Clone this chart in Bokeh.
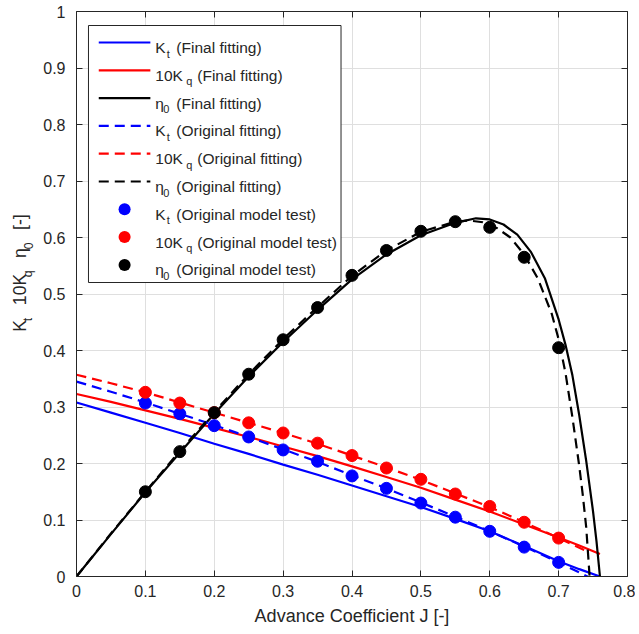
import numpy as np
from bokeh.plotting import figure
from bokeh.layouts import row
from bokeh.models import (Range1d, LinearAxis, FixedTicker, CustomJSTickFormatter,
                          Label, Arrow, BoxAnnotation)
from bokeh.embed import file_html
from bokeh.resources import INLINE

# ---------------- data ----------------
x_ticks = [0, 0.1, 0.2, 0.3, 0.4, 0.5, 0.6, 0.7, 0.8]
y_ticks = [0, 0.1, 0.2, 0.3, 0.4, 0.5, 0.6, 0.7, 0.8, 0.9, 1.0]

# model test points
J_test = [0.10, 0.15, 0.20, 0.25, 0.30, 0.35, 0.40, 0.45, 0.50, 0.55, 0.60, 0.65, 0.70]
Kt_test = [0.307, 0.288, 0.267, 0.247, 0.224, 0.204, 0.178, 0.156, 0.130, 0.105, 0.080, 0.052, 0.025]
Kq10_test = [0.326, 0.307, 0.290, 0.272, 0.254, 0.236, 0.214, 0.192, 0.172, 0.146, 0.124, 0.096, 0.068]
eta_test = [0.150, 0.221, 0.290, 0.358, 0.419, 0.476, 0.533, 0.577, 0.611, 0.628, 0.618, 0.565, 0.405]

# final fitting
J_final_K = [0, 0.05, 0.10, 0.15, 0.20, 0.25, 0.30, 0.35, 0.40, 0.45, 0.50, 0.55, 0.60, 0.65, 0.70, 0.73, 0.76]
Kt_final = [0.308, 0.290, 0.272, 0.254, 0.235, 0.217, 0.198, 0.180, 0.161, 0.142, 0.123, 0.102, 0.080, 0.054, 0.027, 0.013, 0.0]
Kq10_final = [0.323, 0.309, 0.294, 0.279, 0.263, 0.247, 0.230, 0.213, 0.195, 0.176, 0.157, 0.136, 0.115, 0.092, 0.069, 0.055, 0.040]
J_final_eta = [0, 0.05, 0.10, 0.15, 0.20, 0.25, 0.30, 0.35, 0.40, 0.45, 0.50, 0.55, 0.58, 0.60, 0.62,
               0.64, 0.66, 0.68, 0.70, 0.71, 0.72, 0.73, 0.74, 0.75, 0.755, 0.760]
eta_final = [0, 0.075, 0.149, 0.219, 0.288, 0.354, 0.415, 0.472, 0.526, 0.570, 0.604, 0.626, 0.634, 0.632, 0.623,
             0.605, 0.574, 0.528, 0.455, 0.410, 0.356, 0.285, 0.205, 0.115, 0.062, 0.0]

# original fitting
J_orig_K = [0, 0.05, 0.10, 0.15, 0.20, 0.25, 0.30, 0.35, 0.40, 0.45, 0.50, 0.55, 0.60, 0.65, 0.70, 0.742]
Kt_orig = [0.345, 0.327, 0.308, 0.288, 0.268, 0.247, 0.225, 0.203, 0.179, 0.156, 0.131, 0.106, 0.080, 0.053, 0.025, 0.0]
Kq10_orig = [0.357, 0.342, 0.326, 0.308, 0.290, 0.272, 0.254, 0.235, 0.214, 0.193, 0.171, 0.147, 0.123, 0.096, 0.068, 0.044]
J_orig_eta = [0, 0.05, 0.10, 0.15, 0.20, 0.25, 0.30, 0.35, 0.40, 0.45, 0.50, 0.55, 0.57, 0.59, 0.61,
              0.63, 0.65, 0.67, 0.69, 0.70, 0.71, 0.72, 0.73, 0.735, 0.74, 0.745]
eta_orig = [0, 0.076, 0.150, 0.222, 0.291, 0.358, 0.420, 0.477, 0.532, 0.577, 0.610, 0.628, 0.630, 0.627, 0.617,
            0.600, 0.570, 0.527, 0.465, 0.420, 0.360, 0.282, 0.195, 0.145, 0.088, 0.0]

x_title = "Advance Coefficient J [-]"
legend_rows = [
    ("K", "t", "(Final fitting)", "#0000ff", "line", None),
    ("10K", "q", "(Final fitting)", "#ff0000", "line", None),
    ("\u03b7", "0", "(Final fitting)", "#000000", "line", None),
    ("K", "t", "(Original fitting)", "#0000ff", "line", "10 6"),
    ("10K", "q", "(Original fitting)", "#ff0000", "line", "10 6"),
    ("\u03b7", "0", "(Original fitting)", "#000000", "line", "10 6"),
    ("K", "t", "(Original model test)", "#0000ff", "dot", None),
    ("10K", "q", "(Original model test)", "#ff0000", "dot", None),
    ("\u03b7", "0", "(Original model test)", "#000000", "dot", None),
]
# (text, is_subscript, gap before it in spaces)
y_title_parts = [("K", False, 0), ("t", True, 0), ("10K", False, 3), ("q", True, 0),
                 ("\u03b7", False, 3), ("0", True, 0), ("[-]", False, 3)]

# ---------------- layout constants ----------------
FONT = "Liberation Sans"
TXT = "#262626"
H = 632
YT_W = 40                     # width of the strip that carries the y title
FRAME_W, FRAME_H = 552, 565
XR, YR = (0.0, 0.8), (0.0, 1.0)

def fx(px):  # frame-relative px (from left) -> data x
    return XR[0] + px * (XR[1] - XR[0]) / FRAME_W

def fy(py):  # frame-relative px (from top, downward) -> data y
    return YR[1] - py * (YR[1] - YR[0]) / FRAME_H

p = figure(width=75 - YT_W + FRAME_W + 8, height=H, x_range=Range1d(*XR), y_range=Range1d(*YR),
           output_backend="svg", toolbar_location=None,
           min_border_left=75 - YT_W, min_border_right=8, min_border_top=11,
           min_border_bottom=H - 11 - FRAME_H)
p.outline_line_color = None
p.background_fill_color = "white"
p.border_fill_color = "white"

fmt = CustomJSTickFormatter(code="return Number(tick.toFixed(1)).toString();")
blank = CustomJSTickFormatter(code="return '';")

def style_axis(ax, ticks, show_labels, standoff=8):
    ax.ticker = FixedTicker(ticks=ticks)
    ax.axis_line_color = TXT
    ax.axis_line_width = 1
    ax.major_tick_line_color = TXT
    ax.major_tick_line_width = 1
    ax.major_tick_in = 6
    ax.major_tick_out = 0
    ax.minor_tick_line_color = None
    if show_labels:
        ax.formatter = fmt
        ax.major_label_text_font = FONT
        ax.major_label_text_font_size = "16px"
        ax.major_label_text_color = TXT
        ax.major_label_standoff = standoff
    else:
        ax.formatter = blank
        ax.major_label_standoff = 0
        ax.major_label_text_font_size = "1px"

style_axis(p.xaxis[0], x_ticks, True, standoff=8)
style_axis(p.yaxis[0], y_ticks, True, standoff=11)
p.xaxis[0].axis_label = x_title
p.xaxis[0].axis_label_text_font = FONT
p.xaxis[0].axis_label_text_font_size = "18px"
p.xaxis[0].axis_label_text_font_style = "normal"
p.xaxis[0].axis_label_text_color = TXT
p.xaxis[0].axis_label_standoff = 6
top_ax = LinearAxis()
right_ax = LinearAxis()
style_axis(top_ax, x_ticks, False)
style_axis(right_ax, y_ticks, False)
p.add_layout(top_ax, "above")
p.add_layout(right_ax, "right")

for g in (p.xgrid[0], p.ygrid[0]):
    g.grid_line_color = "#dfdfdf"
    g.grid_line_width = 1

LW = 2.2
DASH = "10 6"
# fitted curves
p.line(J_final_K, Kt_final, line_color="#0000ff", line_width=LW)
p.line(J_final_K, Kq10_final, line_color="#ff0000", line_width=LW)
p.line(J_final_eta, eta_final, line_color="#000000", line_width=LW)
p.line(J_orig_K, Kt_orig, line_color="#0000ff", line_width=LW, line_dash=DASH)
p.line(J_orig_K, Kq10_orig, line_color="#ff0000", line_width=LW, line_dash=DASH)
p.line(J_orig_eta, eta_orig, line_color="#000000", line_width=LW, line_dash=DASH)
# model test points
p.scatter(J_test, Kt_test, marker="circle", size=12, fill_color="#0000ff", line_color="#0000ff")
p.scatter(J_test, Kq10_test, marker="circle", size=12, fill_color="#ff0000", line_color="#ff0000")
p.scatter(J_test, eta_test, marker="circle", size=12, fill_color="#000000", line_color="#000000")

# ---------------- legend (drawn by hand for the sub-scripts) ----------------
LEG_L, LEG_R, LEG_T, LEG_B = 12, 265, 14, 271
ROW0, ROW_DY = 31, 27.8
SAMPLE_X0, SAMPLE_X1 = 22.3, 74
TEXT_X = 79
SUB_X = {"K": 90.5, "10K": 110, "\u03b7": 87}
REST_X = {"K": 100, "10K": 121, "\u03b7": 100}
LEG_FS, SUB_FS = "15.5px", "11px"

p.add_layout(BoxAnnotation(left=fx(LEG_L), right=fx(LEG_R), top=fy(LEG_T), bottom=fy(LEG_B),
                           fill_color="white", fill_alpha=1.0, line_color=TXT, line_alpha=1.0,
                           line_width=1))
for i, (main, sub, rest, col, kind, dash) in enumerate(legend_rows):
    ry = ROW0 + ROW_DY * i
    if kind == "line":
        p.add_layout(Arrow(x_start=fx(SAMPLE_X0), y_start=fy(ry), x_end=fx(SAMPLE_X1), y_end=fy(ry),
                           end=None, line_color=col, line_width=LW,
                           line_dash=dash if dash else "solid"))
    else:
        cx = (SAMPLE_X0 + SAMPLE_X1) / 2
        p.add_layout(Arrow(x_start=fx(cx), y_start=fy(ry), x_end=fx(cx + 0.05), y_end=fy(ry),
                           end=None, line_color=col, line_width=12, line_cap="round"))
    p.add_layout(Label(x=fx(TEXT_X), y=fy(ry + 5), text=main, text_font=FONT, text_font_size=LEG_FS,
                       text_color=TXT, text_baseline="alphabetic", text_align="left"))
    p.add_layout(Label(x=fx(SUB_X[main]), y=fy(ry + 11), text=sub, text_font=FONT, text_font_size=SUB_FS,
                       text_color=TXT, text_baseline="alphabetic", text_align="left"))
    p.add_layout(Label(x=fx(REST_X[main]), y=fy(ry + 5), text=rest, text_font=FONT, text_font_size=LEG_FS,
                       text_color=TXT, text_baseline="alphabetic", text_align="left"))

# ---------------- y title (rotated, with sub-scripts) in a narrow strip ----------------
yt = figure(width=YT_W, height=H, x_range=Range1d(0, YT_W), y_range=Range1d(0, H),
            output_backend="svg", toolbar_location=None,
            x_axis_location=None, y_axis_location=None, min_border=0)
yt.outline_line_color = None
yt.background_fill_color = "white"
yt.border_fill_color = "white"
yt.xgrid.visible = False
yt.ygrid.visible = False

EM = {"K": 0.667, "t": 0.278, " ": 0.278, "1": 0.556, "0": 0.556, "q": 0.556,
      "\u03b7": 0.556, "[": 0.278, "-": 0.333, "]": 0.278}
MAIN_FS, SUBY_FS = 17.6, 12.3

def part_len(txt, fs):
    return sum(EM.get(c, 0.556) for c in txt) * fs

total = sum(g * EM[" "] * MAIN_FS + part_len(t, SUBY_FS if s else MAIN_FS) for t, s, g in y_title_parts)
pos = 11 + FRAME_H / 2 + total / 2   # page y of the bottom end: centred on the frame
for txt, is_sub, gap in y_title_parts:
    pos -= gap * EM[" "] * MAIN_FS
    fs = SUBY_FS if is_sub else MAIN_FS
    cx = 27.5 if is_sub else 19
    yt.add_layout(Label(x=cx, y=H - pos, text=txt, angle=np.pi / 2, text_font=FONT,
                        text_font_size=f"{fs}px", text_color=TXT, text_align="left",
                        text_baseline="middle"))
    pos -= part_len(txt, fs)

layout = row(yt, p, spacing=0)
open("out.html", "w").write(file_html(layout, INLINE))
